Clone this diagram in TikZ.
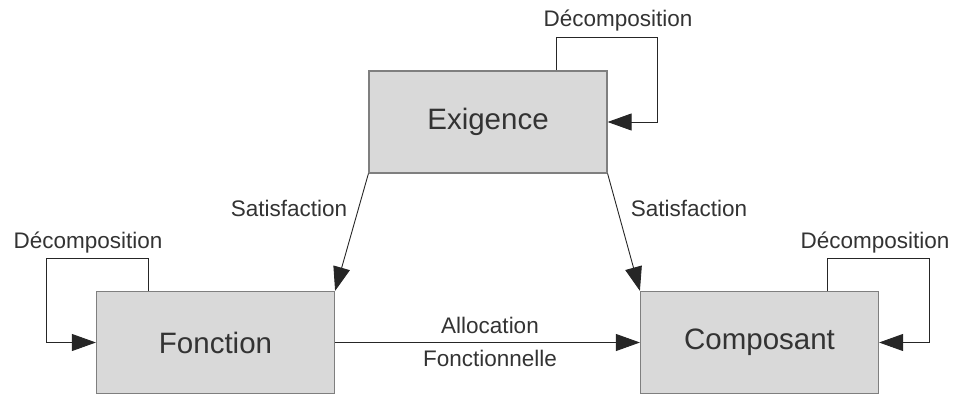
\documentclass[tikz,border=0pt]{standalone}
\usepackage{fontspec}
\setmainfont{Liberation Sans}
\usetikzlibrary{arrows.meta}
\definecolor{boxfill}{HTML}{D9D9D9}
\definecolor{boxline}{HTML}{7F7F7F}
\definecolor{txt}{HTML}{333333}
\tikzset{
  blk/.style={draw=boxline, fill=boxfill, line width=1.2pt, minimum width=238pt, minimum height=102pt, inner sep=0pt, text=txt, font=\fontsize{29.5}{32}\selectfont},
  lbl/.style={text=txt, font=\fontsize{22.5}{25}\selectfont, inner sep=0pt, anchor=base},
  arr/.style={draw=black!85, line width=0.9pt, -{Triangle[length=24pt, width=17pt]}},
}
\begin{document}
\begin{tikzpicture}[x=1pt, y=-1pt]
\useasboundingbox (0,0) rectangle (960,396);
\node[blk] (E) at (488,122) {Exigence};
\node[blk] (F) at (215.5,342.5) {Fonction};
\node[blk] (C) at (759.5,342.5) {Composant};
% loops
\coordinate (e1) at (556,37); \coordinate (e2) at (657,37);
\draw[arr] (E.north -| e1) -- (e1) -- (e2) |- (E.east);
\coordinate (f1) at (148,258); \coordinate (f2) at (46,258);
\draw[arr] (F.north -| f1) -- (f1) -- (f2) |- (F.west);
\coordinate (c1) at (827,258); \coordinate (c2) at (929,258);
\draw[arr] (C.north -| c1) -- (c1) -- (c2) |- (C.east);
% satisfaction
\draw[arr] (E.south west) -- (F.north east);
\draw[arr] (E.south east) -- (C.north west);
% allocation
\draw[arr] (F.east) -- (C.west);
% labels
\node[lbl] (le) at (618,27) {Décomposition};
\node[lbl] (lf) at (88,248) {Décomposition};
\node[lbl] (lc) at (875,248) {Décomposition};
\node[lbl] (s1) at (289,216) {Satisfaction};
\node[lbl] (s2) at (689,216) {Satisfaction};
\node[lbl] (a1) at (490,333) {Allocation};
\node[lbl] (a2) at (490,366) {Fonctionnelle};
\end{tikzpicture}
\end{document}
